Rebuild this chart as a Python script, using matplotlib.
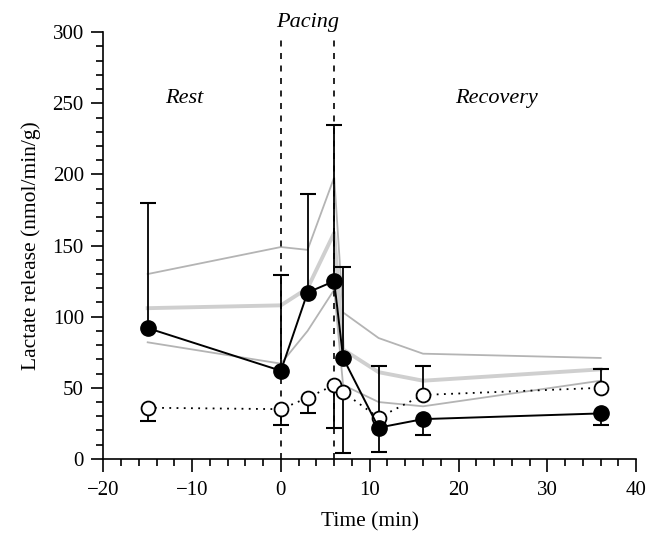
import numpy as np
import matplotlib.pyplot as plt
from matplotlib.ticker import MultipleLocator

plt.rcParams['font.family'] = 'Liberation Serif'

# time points (min)
time = np.array([-15, 0, 3, 6, 7, 11, 16, 36])

# filled circles (solid line) and their error bar ends
filled = np.array([92, 62, 117, 125, 71, 22, 28, 32])
filled_hi = np.array([180, 129, 186, 235, 135, np.nan, np.nan, np.nan])
filled_lo = np.array([np.nan, np.nan, np.nan, np.nan, np.nan, 5, 17, 24])

# open circles (dotted line) and their error bar ends
open_ = np.array([36, 35, 43, 52, 47, 29, 45, 50])
open_hi = np.array([np.nan, np.nan, np.nan, np.nan, np.nan, 65, 65, 63])
open_lo = np.array([27, 24, 32, 22, 4, np.nan, np.nan, np.nan])

# grey reference band: mean and upper/lower limits
band_mean = np.array([106, 108, 120, 159, 77, 61, 55, 63])
band_hi = np.array([130, 149, 147, 198, 103, 85, 74, 71])
band_lo = np.array([82, 67, 90, 119, 52, 40, 37, 55])

fig = plt.figure(figsize=(6.62, 5.47), dpi=100)
ax = fig.add_axes([0.156, 0.161, 0.805, 0.78])

ax.plot(time, band_hi, color='#b4b4b4', lw=1.3, zorder=1)
ax.plot(time, band_lo, color='#b4b4b4', lw=1.3, zorder=1)
ax.plot(time, band_mean, color='#cfcfcf', lw=2.8, zorder=1)

for x0 in (0, 6):
    ax.plot([x0, x0], [0, 296], color='black', lw=1.2, ls=(0, (3.6, 3.9)),
            clip_on=False, zorder=2)


def bars(y, ends):
    m = ~np.isnan(ends)
    ax.vlines(time[m], y[m], ends[m], color='black', lw=1.3, zorder=3)
    ax.plot(time[m], ends[m], ls='none', marker='_', ms=12, mew=1.5,
            color='black', zorder=3, clip_on=False)


bars(filled, filled_hi)
bars(filled, filled_lo)
bars(open_, open_hi)
bars(open_, open_lo)

ax.plot(time, open_, color='black', lw=1.3, ls=(0, (1, 3)), marker='o', ms=10,
        mfc='white', mec='black', mew=1.3, zorder=4)
ax.plot(time, filled, color='black', lw=1.4, marker='o', ms=11,
        mfc='black', mec='black', zorder=5)

ax.set_xlim(-20, 40)
ax.set_ylim(0, 300)
ax.xaxis.set_major_locator(MultipleLocator(10))
ax.xaxis.set_minor_locator(MultipleLocator(2))
ax.yaxis.set_major_locator(MultipleLocator(50))
ax.yaxis.set_minor_locator(MultipleLocator(10))
ax.tick_params(which='major', length=9, width=1.2, labelsize=15)
ax.tick_params(which='minor', length=5, width=1.2)
ax.tick_params(axis='x', which='major', pad=7)
ax.tick_params(axis='y', which='major', pad=5)
for s in ('top', 'right'):
    ax.spines[s].set_visible(False)
for s in ('left', 'bottom'):
    ax.spines[s].set_linewidth(1.2)

ax.set_xlabel('Time (min)', fontsize=15.5, labelpad=9)
ax.set_ylabel('Lactate release (nmol/min/g)', fontsize=15.5, labelpad=8)

ax.text(-10.9, 250, 'Rest', style='italic', fontsize=16, ha='center')
ax.text(3, 300, 'Pacing', style='italic', fontsize=16, ha='center',
        va='bottom')
ax.text(24.3, 250, 'Recovery', style='italic', fontsize=16, ha='center')

fig.savefig('out.png', dpi=100)
